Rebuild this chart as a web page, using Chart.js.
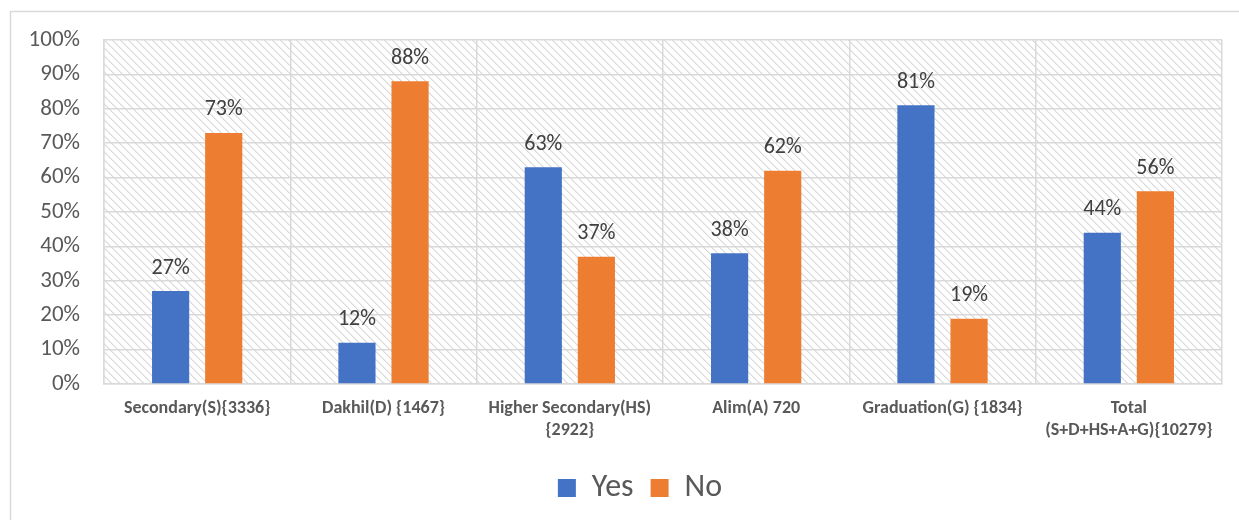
<!DOCTYPE html>
<html>
<head>
<meta charset="utf-8">
<script src="https://cdn.jsdelivr.net/npm/chart.js@4.4.1/dist/chart.umd.min.js"></script>
<style>
  html, body { margin: 0; padding: 0; background: #ffffff; }
  #wrap { width: 1239px; height: 520px; position: relative; }
</style>
</head>
<body>
<div id="wrap"><canvas id="c" width="1239" height="520"></canvas></div>
<script>
const categories = [
  "Secondary(S){3336}",
  "Dakhil(D) {1467}",
  ["Higher Secondary(HS)", "{2922}"],
  "Alim(A) 720",
  "Graduation(G) {1834}",
  ["Total", "(S+D+HS+A+G){10279}"]
];
const yesValues = [27, 12, 63, 38, 81, 44];
const noValues  = [73, 88, 37, 62, 19, 56];
const seriesNames = ["Yes", "No"];
const yTicks = [0, 10, 20, 30, 40, 50, 60, 70, 80, 90, 100];

const FONT = "Carlito, Lato, 'Open Sans', sans-serif";

function makeHatch(ctx) {
  const t = document.createElement('canvas');
  t.width = 8; t.height = 8;
  const c = t.getContext('2d');
  c.fillStyle = '#ffffff';
  c.fillRect(0, 0, 8, 8);
  for (let i = 0; i < 8; i++) {
    c.fillStyle = '#d9d9d9';
    c.fillRect(i, i, 1, 1);
    c.fillStyle = '#ebebeb';
    c.fillRect((i + 1) % 8, i, 1, 1);
  }
  return ctx.createPattern(t, 'repeat');
}

const bgPlugin = {
  id: 'bg',
  afterLayout(chart) {
    if (chart.legend) {
      chart.legend.left += 24;
      chart.legend.right += 24;
    }
  },
  beforeDraw(chart) {
    const { ctx, chartArea: a } = chart;
    ctx.save();
    ctx.fillStyle = '#ffffff';
    ctx.fillRect(0, 0, chart.width, chart.height);
    ctx.strokeStyle = '#d9d9d9';
    ctx.lineWidth = 1.5;
    ctx.beginPath();
    ctx.moveTo(10.5, chart.height);
    ctx.lineTo(10.5, 11.5);
    ctx.lineTo(chart.width, 11.5);
    ctx.stroke();
    ctx.fillStyle = makeHatch(ctx);
    ctx.fillRect(a.left, a.top, a.right - a.left, a.bottom - a.top);
    ctx.restore();
  }
};

const labelPlugin = {
  id: 'vals',
  afterDatasetsDraw(chart) {
    const { ctx } = chart;
    ctx.save();
    ctx.font = "22px " + FONT;
    ctx.fillStyle = '#404040';
    ctx.textAlign = 'center';
    ctx.textBaseline = 'middle';
    chart.data.datasets.forEach((ds, di) => {
      const meta = chart.getDatasetMeta(di);
      meta.data.forEach((bar, i) => {
        ctx.fillText(ds.data[i] + '%', bar.x, bar.y - 23);
      });
    });
    ctx.restore();
  }
};

new Chart(document.getElementById('c'), {
  type: 'bar',
  data: {
    labels: categories,
    datasets: [
      { label: seriesNames[0], data: yesValues, backgroundColor: '#4472C4', barPercentage: 0.70, categoryPercentage: 0.57 },
      { label: seriesNames[1], data: noValues, backgroundColor: '#ED7D31', barPercentage: 0.70, categoryPercentage: 0.57 }
    ]
  },
  options: {
    responsive: false,
    animation: false,
    devicePixelRatio: 1,
    layout: { padding: { left: 10, right: 17, top: 40, bottom: 6 } },
    plugins: {
      legend: {
        position: 'bottom',
        labels: {
          font: { family: FONT, size: 32 },
          color: '#595959',
          boxWidth: 18,
          boxHeight: 18,
          padding: 17
        }
      },
      tooltip: { enabled: false }
    },
    scales: {
      x: {
        grid: { color: '#d9d9d9', lineWidth: 1.5, offset: true, drawTicks: false },
        border: { color: '#d9d9d9', width: 1.5 },
        ticks: {
          color: '#595959',
          font: { family: FONT, size: 18, weight: 'bold' },
          padding: 14,
          maxRotation: 0,
          autoSkip: false
        },
        afterFit(s) { s.height = 71; }
      },
      y: {
        min: 0, max: 100,
        afterBuildTicks(s) { s.ticks = yTicks.map(v => ({ value: v })); },
        grid: { color: '#d9d9d9', lineWidth: 1.5, drawTicks: false },
        border: { color: '#d9d9d9', width: 1.5 },
        ticks: {
          color: '#595959',
          font: { family: FONT, size: 23 },
          padding: 24,
          callback: v => v + '%'
        },
        afterFit(s) { s.width = 94; }
      }
    }
  },
  plugins: [bgPlugin, labelPlugin]
});
</script>
</body>
</html>
